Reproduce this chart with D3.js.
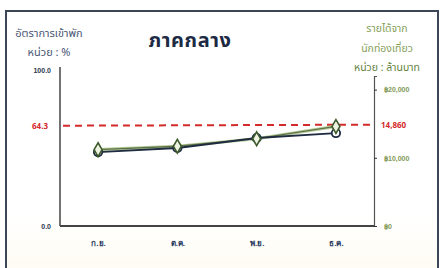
<!DOCTYPE html>
<html><head><meta charset="utf-8">
<script src="https://cdn.jsdelivr.net/npm/d3@7"></script>
<style>
html,body{margin:0;padding:0;background:#fff;}
svg{display:block;font-family:"Noto Sans Thai","Noto Sans","DejaVu Sans",sans-serif;}
</style></head><body>
<svg id="c" width="440" height="268"></svg>
<script>
const months = ["ก.ย.", "ต.ค.", "พ.ย.", "ธ.ค."];
const occupancy = [47.4, 50.0, 56.4, 59.6];
const revenue = [11200, 11700, 12800, 14600];
const occAvg = 64.3;
const revAvg = 14860;
const leftTicks = [0, 100];
const rightTicks = [0, 10000, 20000];

const svg = d3.select("#c");
const x = d3.scalePoint().domain(months).range([60, 374]).padding(0.48);
const yL = d3.scaleLinear().domain([0, 100]).range([226, 70]);
const yR = d3.scaleLinear().domain([0, 22000]).range([226, 76]);

// frame
const defs = svg.append("defs");
const grad = defs.append("linearGradient").attr("id", "bg").attr("x1", 0).attr("x2", 0).attr("y1", 0).attr("y2", 1);
grad.append("stop").attr("offset", "0.75").attr("stop-color", "#ffffff");
grad.append("stop").attr("offset", "1").attr("stop-color", "#fdfbf0");
svg.append("rect").attr("x", 6).attr("y", 11).attr("width", 432).attr("height", 270)
  .attr("fill", "url(#bg)").attr("stroke", "#3b4656").attr("stroke-width", 2);

// title
svg.append("text").attr("x", 190).attr("y", 47).attr("text-anchor", "middle")
  .attr("font-size", 20).attr("font-weight", "bold").attr("letter-spacing", 0.6)
  .attr("fill", "#1d2a44").text("ภาคกลาง");

// left title
svg.append("text").attr("x", 49).attr("y", 37).attr("text-anchor", "middle")
  .attr("font-size", 11).attr("fill", "#4a5675").text("อัตราการเข้าพัก");
svg.append("text").attr("x", 49).attr("y", 56).attr("text-anchor", "middle")
  .attr("font-size", 11).attr("fill", "#4a5675").text("หน่วย : %");

// right title
const rt = [["รายได้จาก", 32, "#86a05a"], ["นักท่องเที่ยว", 52, "#86a05a"], ["หน่วย : ล้านบาท", 71, "#64823e"]];
rt.forEach(d => svg.append("text").attr("x", 387).attr("y", d[1]).attr("text-anchor", "middle")
  .attr("font-size", 10.5).attr("fill", d[2]).text(d[0]));

// axes
const gL = svg.append("g").attr("transform", "translate(60,0)")
  .call(d3.axisLeft(yL).tickValues(leftTicks).tickSize(0).tickPadding(9).tickFormat(d3.format(".1f")));
gL.select(".domain").attr("stroke", "#444").attr("stroke-width", 1.5).attr("d", "M0,67V226");
gL.selectAll("text").attr("font-size", 7).attr("font-weight", "bold").attr("fill", "#2a3550");

const gR = svg.append("g").attr("transform", "translate(374,0)")
  .call(d3.axisRight(yR).tickValues(rightTicks).tickSize(3).tickPadding(7)
    .tickFormat(d => "฿" + d3.format(",")(d)));
gR.select(".domain").attr("stroke", "#555").attr("stroke-width", 1.2);
gR.selectAll(".tick line").attr("stroke", "#333");
gR.selectAll("text").attr("font-size", 7).attr("font-weight", "bold").attr("fill", "#7f9a55");

const gB = svg.append("g").attr("transform", "translate(0,226)")
  .call(d3.axisBottom(x).tickSize(0).tickPadding(14));
gB.select(".domain").attr("stroke", "#444").attr("stroke-width", 1.8).attr("d", "M60,0H374");
gB.selectAll("text").attr("font-size", 8).attr("font-weight", "bold").attr("fill", "#2a3a60");

// average dashed line
svg.append("line").attr("x1", 63).attr("x2", 372).attr("y1", yL(occAvg)).attr("y2", yR(revAvg))
  .attr("stroke", "#d42a2a").attr("stroke-width", 2).attr("stroke-dasharray", "7,5");
svg.append("text").attr("x", 48).attr("y", yL(occAvg) + 3).attr("text-anchor", "end")
  .attr("font-size", 8).attr("font-weight", "bold").attr("fill", "#d42a2a").text(d3.format(".1f")(occAvg));
svg.append("text").attr("x", 381).attr("y", yR(revAvg) + 3)
  .attr("font-size", 8).attr("font-weight", "bold").attr("fill", "#d42a2a").text(d3.format(",")(revAvg));

// lines
const lineL = d3.line().x((d, i) => x(months[i])).y(d => yL(d));
const lineR = d3.line().x((d, i) => x(months[i])).y(d => yR(d));
svg.append("path").attr("d", lineR(revenue)).attr("fill", "none").attr("stroke", "#b9cc9c").attr("stroke-width", 3.2);
svg.append("path").attr("d", lineR(revenue)).attr("fill", "none").attr("stroke", "#5d7448").attr("stroke-width", 1.3);
svg.append("path").attr("d", lineL(occupancy)).attr("fill", "none").attr("stroke", "#1e2b40").attr("stroke-width", 1.8);

svg.selectAll(".cm").data(occupancy).join("circle").attr("cx", (d, i) => x(months[i])).attr("cy", d => yL(d))
  .attr("r", 4.2).attr("fill", "#fff").attr("stroke", "#1e2b40").attr("stroke-width", 1.8);
const sym = d3.symbol().type(d3.symbolDiamond).size(55);
svg.selectAll(".dm").data(revenue).join("path").attr("d", sym)
  .attr("transform", (d, i) => `translate(${x(months[i])},${yR(d)})`)
  .attr("fill", "#eef3e2").attr("stroke", "#3d5a2c").attr("stroke-width", 1.6);
</script></body></html>
